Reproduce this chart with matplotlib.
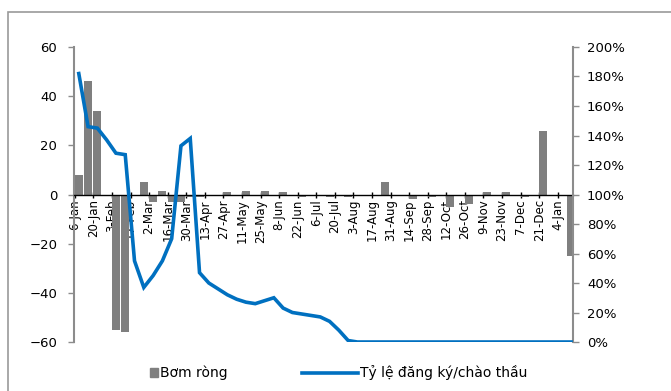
import pandas as pd
import matplotlib
matplotlib.use('Agg')
import matplotlib.pyplot as plt
from matplotlib.patches import Patch, Rectangle
from matplotlib.lines import Line2D
import matplotlib.dates as mdates

plt.rcParams['font.family'] = ['DejaVu Sans']

# weekly observations (Thursday of each week), Jan 2020 - Jan 2021
dates = pd.date_range('2020-01-09', periods=54, freq='7D')

# net injection (left axis)
net_injection = [8, 46, 34, 0, -55, -56, 0, 5, -3, 1.5,
                 -3, -3, -1, -1, 0, 0, 1, 0, 1.5, 0,
                 1.5, 0, 1, 0, -1, 0, 0, -1, 0, -1,
                 0, 0, 0, 5, 0, 0, -2, 0, -1, 0,
                 -5, 0, -4, 0, 1, 0, 1, 0, -1, 0,
                 26, 0, 0, -25]

# subscription / offer ratio, % (right axis)
ratio = [182, 146, 145, 137, 128, 127, 55, 37, 45, 55,
         70, 133, 138, 47, 40, 36, 32, 29, 27, 26,
         28, 30, 23, 20, 19, 18, 17, 14, 8, 1,
         0, 0, 0, 0, 0, 0, 0, 0, 0, 0,
         0, 0, 0, 0, 0, 0, 0, 0, 0, 0,
         0, 0, 0, 0]

tick_dates = pd.date_range('2020-01-06', '2021-01-04', freq='14D')
tick_labels = ['6-Jan', '20-Jan', '3-Feb', '17-Feb', '2-Mar', '16-Mar', '30-Mar',
               '13-Apr', '27-Apr', '11-May', '25-May', '8-Jun', '22-Jun', '6-Jul',
               '20-Jul', '3-Aug', '17-Aug', '31-Aug', '14-Sep', '28-Sep', '12-Oct',
               '26-Oct', '9-Nov', '23-Nov', '7-Dec', '21-Dec', '4-Jan']

bar_color = '#7f7f7f'
line_color = '#0070c0'
axis_gray = '#8c8c8c'

fig = plt.figure(figsize=(6.71, 3.91), dpi=100)
ax = fig.add_axes([0.110, 0.1253, 0.744, 0.7545])

ax.bar(dates, net_injection, width=6.0, color=bar_color, zorder=2)
ax.set_ylim(-60, 60)
ax.set_yticks(range(-60, 61, 20))
ax.set_xlim(pd.Timestamp('2020-01-05 06:00'), pd.Timestamp('2021-01-15 12:00'))

ax2 = ax.twinx()
ax2.plot(dates, ratio, color=line_color, lw=2.6, solid_joinstyle='miter', zorder=3)
ax2.set_ylim(0, 200)
ax2.set_yticks(range(0, 201, 20))
ax2.set_yticklabels([f'{v}%' for v in range(0, 201, 20)])

# x axis sits on the zero line of the left axis
ax.spines['bottom'].set_position(('data', 0))
ax.spines['bottom'].set_color('black')
ax.spines['bottom'].set_linewidth(1.0)
ax.spines['bottom'].set_zorder(2.5)
ax.set_xticks(tick_dates)
ax.set_xticklabels(tick_labels, rotation=90, fontsize=8.5)
ax.tick_params(axis='x', direction='inout', length=5, width=1, color='black', pad=1)

for a in (ax, ax2):
    a.spines['top'].set_visible(False)
ax2.spines['bottom'].set_visible(False)
ax.spines['right'].set_visible(False)
ax.spines['left'].set_color(axis_gray)
ax.spines['left'].set_linewidth(1.5)
ax2.spines['left'].set_visible(False)
ax2.spines['right'].set_color(axis_gray)
ax2.spines['right'].set_linewidth(1.5)
ax.tick_params(axis='y', length=4, width=1, color=axis_gray, labelsize=9.5, pad=8)
ax2.tick_params(axis='y', length=4, width=1, color=axis_gray, labelsize=9.5, pad=6)

# chart area border
fig.add_artist(Rectangle((8 / 671, -0.2), 1.2, 1.2 - 12 / 391 + 0.0,
                         transform=fig.transFigure, fill=False,
                         edgecolor='#9a9a9a', lw=1.2))

leg1 = fig.legend(handles=[Patch(color=bar_color, label='Bơm ròng')],
                  loc='center left', bbox_to_anchor=(150 / 671, 18 / 391),
                  frameon=False, fontsize=10, handlelength=0.6, handleheight=0.6,
                  handletextpad=0.15, borderpad=0, borderaxespad=0)
leg2 = fig.legend(handles=[Line2D([], [], color=line_color, lw=2.6,
                                  label='Tỷ lệ đăng ký/chào thầu')],
                  loc='center left', bbox_to_anchor=(302 / 671, 18 / 391),
                  frameon=False, fontsize=10, handlelength=4.0,
                  handletextpad=0.2, borderpad=0, borderaxespad=0)

fig.savefig('out.png', dpi=100)
